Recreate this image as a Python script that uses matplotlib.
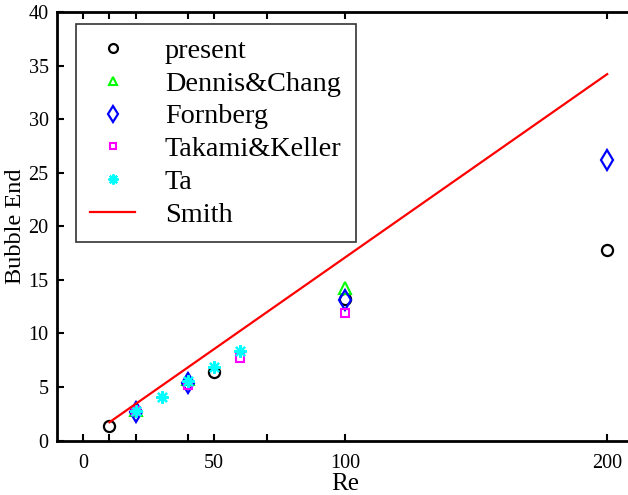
import matplotlib
matplotlib.use("Agg")
import matplotlib.pyplot as plt

plt.rcParams['font.family'] = ['Liberation Serif', 'DejaVu Serif']

# Data
re_present = [10, 50, 100, 200]
present = [1.35, 6.4, 13.2, 17.8]

re_dennis = [20, 40, 100]
dennis = [2.85, 5.7, 14.25]

re_fornberg = [20, 40, 100, 200]
fornberg = [2.7, 5.4, 13.1, 26.2]

re_takami = [20, 40, 60, 100]
takami = [2.8, 5.2, 7.7, 11.9]

re_ta = [20, 30, 40, 50, 60]
ta = [2.8, 4.1, 5.6, 6.9, 8.4]

re_smith = [10, 200]
smith = [1.7, 34.2]

xticks = [0, 10, 20, 40, 50, 70, 100, 200]
xticklabels = ['0', '', '', '', '50', '', '100', '200']
yticks = [0, 5, 10, 15, 20, 25, 30, 35, 40]

W, H = 628, 495
fig = plt.figure(figsize=(W / 100, H / 100), dpi=100)
left, right, top, bottom = 57, 633.4, 12, 440.5
ax = fig.add_axes([left / W, 1 - bottom / H, (right - left) / W, (bottom - top) / H])

ax.plot(re_present, present, linestyle='none', marker='o', ms=8, mfc='none', mec='black', mew=1.6, label='present')
ax.plot(re_dennis, dennis, linestyle='none', marker='^', ms=8, mfc='none', mec=(0, 1, 0), mew=1.5, label='Dennis&Chang')
ax.plot(re_fornberg, fornberg, linestyle='none', marker='d', ms=10, mfc='none', mec=(0, 0, 1), mew=1.6, label='Fornberg')
ax.plot(re_takami, takami, linestyle='none', marker='s', ms=6, mfc='none', mec=(1, 0, 1), mew=1.5, label='Takami&Keller')
ax.plot(re_ta, ta, linestyle='none', marker=(8, 2, 0), ms=9, mfc='none', mec=(0, 1, 1), mew=1.6, label='Ta')
ax.plot(re_smith, smith, color=(1, 0, 0), lw=1.6, label='Smith')

ax.set_xlim(-10, 210)
ax.set_ylim(0, 40)
ax.set_xticks(xticks)
ax.set_xticklabels(xticklabels)
ax.set_yticks(yticks)
ax.tick_params(direction='in', length=5, width=1.5, labelsize=14.5, top=True, right=False)
ax.tick_params(axis='x', pad=10)
ax.tick_params(axis='y', pad=6)
for s in ax.spines.values():
    s.set_linewidth(2)

ax.set_xlabel('Re', fontsize=18, labelpad=0)
ax.set_ylabel('Bubble End', fontsize=17.5, labelpad=2)

leg = ax.legend(loc='upper left', bbox_to_anchor=((76 - left) / (right - left), (bottom - 24) / (bottom - top)),
                borderaxespad=0, fontsize=20.3, frameon=True, fancybox=False, edgecolor='black',
                labelspacing=0.25, handlelength=1.6, handletextpad=1.05, borderpad=0.5, markerscale=0.8)
leg.get_frame().set_linewidth(1.2)

fig.savefig('out.png', dpi=100)
